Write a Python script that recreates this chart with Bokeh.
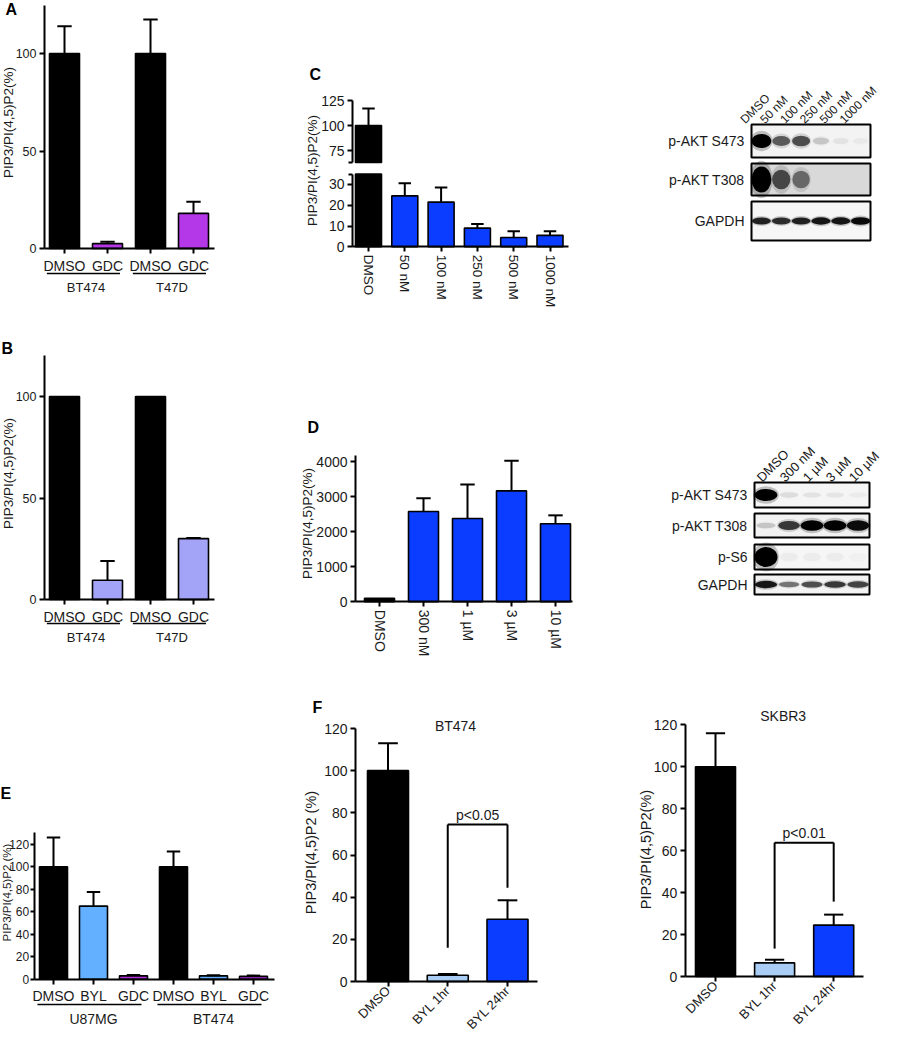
import numpy as np
from bokeh.plotting import figure
from bokeh.models import Range1d, LinearAxis, FixedTicker
from bokeh.layouts import row, column
from bokeh.embed import file_html
from bokeh.resources import INLINE
from bokeh.core.properties import value

FONT = "Liberation Sans"
TXT = "#1a1a1a"

# ---------------- data ----------------
a_cells = ["BT474", "BT474", "T47D", "T47D"]
a_treat = ["DMSO", "GDC", "DMSO", "GDC"]
a_mean = [100, 2.5, 100, 18]
a_upper = [114, 3.5, 117.5, 24]

b_cells = ["BT474", "BT474", "T47D", "T47D"]
b_treat = ["DMSO", "GDC", "DMSO", "GDC"]
b_mean = [100, 9.5, 100, 30]
b_upper = [100, 19, 100, 30.3]

c_dose = ["DMSO", "50 nM", "100 nM", "250 nM", "500 nM", "1000 nM"]
c_mean = [100, 24.5, 21.5, 9, 4.5, 5.5]
c_upper = [117, 30.5, 28.5, 11, 7.5, 7.5]
c_break = [35, 63]  # axis break: lower segment top, upper segment bottom

d_dose = ["DMSO", "300 nM", "1 µM", "3 µM", "10 µM"]
d_mean = [100, 2580, 2380, 3170, 2230]
d_upper = [100, 2960, 3350, 4030, 2470]

e_cells = ["U87MG", "U87MG", "U87MG", "BT474", "BT474", "BT474"]
e_treat = ["DMSO", "BYL", "GDC", "DMSO", "BYL", "GDC"]
e_mean = [100, 65, 3, 100, 3, 2.5]
e_upper = [126, 77.5, 3.8, 113.5, 3.6, 3.2]

f_treat = ["DMSO", "BYL 1hr", "BYL 24hr"]
f1_mean = [100, 3, 29.5]
f1_upper = [113, 3.5, 38.5]
f1_p = "p<0.05"
f1_bracket = [74.5, 16, 44.5]   # bar top, left leg end, right leg end
f2_mean = [100, 6.5, 24.5]
f2_upper = [116, 8, 29.5]
f2_p = "p<0.01"
f2_bracket = [63.8, 13.3, 35.7]

cb_lanes = ["DMSO", "50 nM", "100 nM", "250 nM", "500 nM", "1000 nM"]
cb_rows = ["p-AKT S473", "p-AKT T308", "GAPDH"]
cb_int = [[1.0, 0.55, 0.6, 0.15, 0.05, 0.03],
          [1.0, 0.6, 0.45, 0.0, 0.0, 0.0],
          [0.8, 0.75, 0.8, 0.85, 0.85, 0.9]]
db_lanes = ["DMSO", "300 nM", "1 µM", "3 µM", "10 µM"]
db_rows = ["p-AKT S473", "p-AKT T308", "p-S6", "GAPDH"]
db_int = [[1.0, 0.08, 0.06, 0.05, 0.03],
          [0.15, 0.7, 0.95, 0.95, 0.9],
          [1.0, 0.03, 0.03, 0.03, 0.02],
          [0.85, 0.45, 0.6, 0.7, 0.65]]

YLAB = "PIP3/PI(4,5)P2(%)"
YLAB_SP = "PIP3/PI(4,5)P2 (%)"

BLACK = "#000000"
PURPLE = "#b438e8"
LAVENDER = "#a3a3f7"
BLUE = "#0a3dff"
LBLUE = "#62b0ff"
PALEBLUE = "#a9cdf4"
PURPLE2 = "#b02fd9"


# ---------------- helpers ----------------
def base_fig(cell, xmap, ymap):
    x0, y0, x1, y1 = cell
    c0, sp = xmap
    z, ppu = ymap
    X = lambda px: (px - c0) / sp
    Y = lambda py: (z - py) / ppu
    p = figure(width=x1 - x0, height=y1 - y0,
               x_range=Range1d(X(x0), X(x1)), y_range=Range1d(Y(y1), Y(y0)),
               output_backend="svg", toolbar_location=None,
               x_axis_location=None, y_axis_location=None, min_border=0,
               outline_line_color=None, background_fill_color="white",
               border_fill_color="white")
    p.grid.visible = False
    return p, X, Y


def style(ax, fs, standoff=3, tick_out=5):
    ax.axis_line_width = 2
    ax.axis_line_color = "black"
    ax.major_tick_line_width = 2
    ax.major_tick_line_color = "black"
    ax.major_tick_out = tick_out
    ax.major_tick_in = 0
    ax.minor_tick_line_width = 2
    ax.minor_tick_line_color = "black"
    ax.minor_tick_out = 4
    ax.minor_tick_in = 0
    ax.major_label_text_font = FONT
    ax.major_label_text_font_size = f"{fs}px"
    ax.major_label_text_color = TXT
    ax.major_label_standoff = standoff


def yaxis(p, at, bounds, ticks, fs, minor=None, range_name="default", standoff=3, tick_out=5):
    ax = LinearAxis(fixed_location=at, bounds=bounds,
                    ticker=FixedTicker(ticks=ticks, minor_ticks=minor or []),
                    y_range_name=range_name)
    style(ax, fs, standoff, tick_out)
    p.add_layout(ax, "left")


def xaxis(p, at, bounds, labels, fs, orient="horizontal", standoff=4):
    ax = LinearAxis(fixed_location=at, bounds=bounds,
                    ticker=FixedTicker(ticks=list(range(len(labels)))),
                    major_label_overrides={i: s for i, s in enumerate(labels)},
                    major_label_orientation=orient)
    style(ax, fs, standoff)
    p.add_layout(ax, "below")


def txt(p, xs, ys, texts, fs, align="center", baseline="middle", angle=0.0,
        bold=False, color=TXT):
    p.text(x=list(xs), y=list(ys), text=list(texts), text_font=value(FONT),
           text_font_size=value(f"{fs}px"), text_align=align,
           text_baseline=baseline, angle=angle,
           text_font_style="bold" if bold else "normal", text_color=color)


def bars(p, xs, tops, uppers, colors, w, bottom=0, range_name="default"):
    xs = np.asarray(xs, dtype=float)
    tops = np.asarray(tops, dtype=float)
    uppers = np.asarray(uppers, dtype=float)
    p.vbar(x=xs, top=tops, bottom=bottom, width=w, fill_color=colors,
           line_color="black", line_width=1.6, y_range_name=range_name)
    m = uppers > tops
    if m.any():
        cw = w * 0.24
        p.segment(x0=xs[m], y0=tops[m], x1=xs[m], y1=uppers[m],
                  line_color="black", line_width=2, y_range_name=range_name)
        p.segment(x0=xs[m] - cw, y0=uppers[m], x1=xs[m] + cw, y1=uppers[m],
                  line_color="black", line_width=2, y_range_name=range_name)


def groups(p, cells, y_line, y_text, fs, left=0.41, right=0.29):
    order = []
    for c in cells:
        if c not in order:
            order.append(c)
    x0s, x1s, mids = [], [], []
    for g in order:
        idx = [i for i, c in enumerate(cells) if c == g]
        x0s.append(min(idx) - left)
        x1s.append(max(idx) + right)
        mids.append((min(idx) + max(idx)) / 2)
    p.segment(x0=x0s, y0=[y_line] * len(order), x1=x1s, y1=[y_line] * len(order),
              line_color="black", line_width=1.5)
    txt(p, mids, [y_text] * len(order), order, fs)


def bracket(p, br, label, ppu, fs=14):
    top, l_end, r_end = br
    p.segment(x0=[1, 1, 2], y0=[top, l_end, r_end], x1=[2, 1, 2], y1=[top, top, top],
              line_color="black", line_width=2)
    txt(p, [1.5], [top + 1.5 / ppu], [label], fs, baseline="bottom")


def blot(cell, box_l, box_r, rows_px, lanes, rownames, ints, bgs, band_h,
         lab_dx, lab_y, lab_fs=13):
    x0, y0, x1, y1 = cell
    nl = len(lanes)
    lw = (box_r - box_l) / nl
    X = lambda px: (px - box_l) / lw - 0.5
    Y = lambda py: -py
    p = figure(width=x1 - x0, height=y1 - y0,
               x_range=Range1d(X(x0), X(x1)), y_range=Range1d(Y(y1), Y(y0)),
               output_backend="svg", toolbar_location=None,
               x_axis_location=None, y_axis_location=None, min_border=0,
               outline_line_color=None, background_fill_color="white",
               border_fill_color="white")
    p.grid.visible = False
    idx = np.arange(nl, dtype=float)
    for r, (t, b) in enumerate(rows_px):
        yc = Y((t + b) / 2)
        h = b - t
        p.rect(x=(nl - 1) / 2, y=yc, width=nl, height=h, fill_color=bgs[r],
               line_color=None)
        I = np.asarray(ints[r], dtype=float)
        m = I > 0.005
        hh = band_h[r] * (0.4 + 0.6 * I[m])
        ww = 0.78 + 0.22 * I[m]
        p.ellipse(x=idx[m], y=yc, width=ww * 1.12, height=hh * 1.45,
                  fill_color="black", fill_alpha=0.22 * I[m], line_color=None)
        p.ellipse(x=idx[m], y=yc, width=ww, height=hh, fill_color="black",
                  fill_alpha=np.clip(I[m] * 1.05, 0, 1), line_color=None)
        p.rect(x=(nl - 1) / 2, y=yc, width=nl, height=h, fill_color=None,
               line_color="black", line_width=2)
        txt(p, [X(box_l - 7)], [yc], [rownames[r]], 14, align="right")
    txt(p, idx - lab_dx / lw, [Y(lab_y)] * nl, lanes, lab_fs, align="left",
        baseline="alphabetic", angle=np.pi / 4)
    return p


# ---------------- panel A ----------------
pA, X, Y = base_fig((8, 8, 300, 340), (72, 43), (256, 1.95))
bars(pA, np.arange(len(a_mean)), a_mean, a_upper, [BLACK, PURPLE, BLACK, PURPLE], 30 / 43)
yaxis(pA, X(52), (0, Y(13)), [0, 50, 100], 12.5)
xaxis(pA, 0, (X(52), X(222)), a_treat, 14)
groups(pA, a_cells, Y(281), Y(295), 13)
txt(pA, [X(16)], [Y(130)], [YLAB], 13.5, angle=np.pi / 2)
txt(pA, [X(13)], [Y(8)], ["A"], 16, align="left", baseline="top", bold=True, color="black")

# ---------------- panel B ----------------
pB, X, Y = base_fig((8, 340, 300, 670), (72, 43), (607, 2.03))
bars(pB, np.arange(len(b_mean)), b_mean, b_upper, [BLACK, LAVENDER, BLACK, LAVENDER], 30 / 43)
yaxis(pB, X(52), (0, Y(363)), [0, 50, 100], 12.5)
xaxis(pB, 0, (X(52), X(222)), b_treat, 14)
groups(pB, b_cells, Y(631), Y(645), 13)
txt(pB, [X(16)], [Y(481)], [YLAB], 13.5, angle=np.pi / 2)
txt(pB, [X(9)], [Y(347)], ["B"], 16, align="left", baseline="top", bold=True, color="black")

# ---------------- panel C (broken axis) ----------------
pC, X, Y = base_fig((300, 8, 640, 340), (376, 36.3), (233, 1.0))
zl, ppl = 254.3, 2.08
YL = lambda py: (zl - py) / ppl
pC.extra_y_ranges = {"lower": Range1d(YL(340), YL(8))}
cx = np.arange(len(c_mean), dtype=float)
cm = np.asarray(c_mean, dtype=float)
cu = np.asarray(c_upper, dtype=float)
ccol = [BLACK] + [BLUE] * (len(c_mean) - 1)
hi = cm > c_break[0]
cwid = 26 / 36.3
pC.vbar(x=cx[hi], bottom=c_break[1], top=cm[hi], width=cwid,
        fill_color=[ccol[i] for i in np.where(hi)[0]], line_color="black", line_width=1.6)
pC.vbar(x=cx, bottom=0, top=np.minimum(cm, c_break[0]), width=cwid,
        fill_color=ccol, line_color="black", line_width=1.6, y_range_name="lower")
cw = cwid * 0.24
eh = cu > c_break[0]
pC.segment(x0=cx[eh], y0=cm[eh], x1=cx[eh], y1=cu[eh], line_color="black", line_width=2)
pC.segment(x0=cx[eh] - cw, y0=cu[eh], x1=cx[eh] + cw, y1=cu[eh], line_color="black", line_width=2)
el = ~eh
pC.segment(x0=cx[el], y0=cm[el], x1=cx[el], y1=cu[el], line_color="black", line_width=2,
           y_range_name="lower")
pC.segment(x0=cx[el] - cw, y0=cu[el], x1=cx[el] + cw, y1=cu[el], line_color="black",
           line_width=2, y_range_name="lower")
yaxis(pC, X(360), (c_break[1], 125), [75, 100, 125], 14, minor=[c_break[1]])
yaxis(pC, X(360), (0, c_break[0]), [0, 10, 20, 30], 14, minor=[c_break[0]], range_name="lower")
xaxis(pC, Y(254.3), (X(360), X(576)), c_dose, 13.5, orient="vertical", standoff=3)
txt(pC, [X(320)], [Y(178)], [YLAB], 13.5, angle=np.pi / 2)
txt(pC, [X(317)], [Y(73)], ["C"], 16, align="left", baseline="top", bold=True, color="black")

# ---------------- panel C blot ----------------
pCb = blot((640, 8, 891, 340), 759, 878, [(132, 165), (171, 203), (209, 248)],
           cb_lanes, cb_rows, cb_int, ["#f3f3f3", "#d9d9d9", "#f6f6f6"], [14, 26, 8],
           19, 129, lab_fs=12)

# ---------------- panel D ----------------
pD, X, Y = base_fig((300, 340, 640, 670), (387, 44), (609.3, 0.035))
bars(pD, np.arange(len(d_mean)), d_mean, d_upper, [BLACK] + [BLUE] * 4, 30 / 44)
yaxis(pD, X(363), (0, Y(463)), [0, 1000, 2000, 3000, 4000], 14)
xaxis(pD, 0, (X(363), X(580)), d_dose, 14, orient="vertical", standoff=3)
txt(pD, [X(315)], [Y(531)], [YLAB], 13.5, angle=np.pi / 2)
txt(pD, [X(315)], [Y(426)], ["D"], 16, align="left", baseline="top", bold=True, color="black")

# ---------------- panel D blot ----------------
pDb = blot((640, 340, 891, 670), 762, 877, [(490, 515), (521, 545), (552, 577), (582, 602)],
           db_lanes, db_rows, db_int, ["#f5f5f5", "#f2f2f2", "#f6f6f6", "#f3f3f3"],
           [12, 11, 20, 8], 7, 487)

# ---------------- panel E ----------------
pE, X, Y = base_fig((8, 670, 300, 1041), (61, 40), (986.7, 1.125))
bars(pE, np.arange(len(e_mean)), e_mean, e_upper,
     [BLACK, LBLUE, PURPLE2, BLACK, LBLUE, PURPLE2], 28 / 40)
yaxis(pE, X(41.7), (0, Y(840)), [0, 20, 40, 60, 80, 100, 120], 12, standoff=1, tick_out=4)
xaxis(pE, 0, (X(41.7), X(282)), e_treat, 14)
groups(pE, e_cells, Y(1012), Y(1026), 14, left=0.4, right=0.2)
txt(pE, [X(14)], [Y(900)], [YLAB_SP], 11.5, angle=np.pi / 2)
txt(pE, [X(8)], [Y(792)], ["E"], 16, align="left", baseline="top", bold=True, color="black")

# ---------------- panel F (BT474) ----------------
pF1, X, Y = base_fig((300, 670, 630, 1041), (395.5, 59.75), (989, 2.1083))
bars(pF1, np.arange(3), f1_mean, f1_upper, [BLACK, PALEBLUE, BLUE], 41 / 59.75)
yaxis(pF1, X(363), (0, 120), [0, 20, 40, 60, 80, 100, 120], 14)
xaxis(pF1, 0, (X(363), X(545)), f_treat, 13, orient=np.pi / 4, standoff=2)
bracket(pF1, f1_bracket, f1_p, 2.1083)
txt(pF1, [X(463)], [Y(733)], ["BT474"], 14)
txt(pF1, [X(318)], [Y(860)], [YLAB_SP], 14.5, angle=np.pi / 2)
txt(pF1, [X(320)], [Y(706)], ["F"], 16, align="left", baseline="top", bold=True, color="black")

# ---------------- panel F (SKBR3) ----------------
pF2, X, Y = base_fig((630, 670, 891, 1041), (723, 59.1), (984, 2.0975))
bars(pF2, np.arange(3), f2_mean, f2_upper, [BLACK, PALEBLUE, BLUE], 40 / 59.1)
yaxis(pF2, X(692.7), (0, 120), [0, 20, 40, 60, 80, 100, 120], 14)
xaxis(pF2, 0, (X(692.7), X(870.7)), f_treat, 13, orient=np.pi / 4, standoff=2)
bracket(pF2, f2_bracket, f2_p, 2.0975)
txt(pF2, [X(790.7)], [Y(723)], ["SKBR3"], 14)
txt(pF2, [X(653)], [Y(857)], [YLAB], 14.5, angle=np.pi / 2)

layout = column(row(pA, pC, pCb, spacing=0),
                row(pB, pD, pDb, spacing=0),
                row(pE, pF1, pF2, spacing=0), spacing=0)

open("out.html", "w").write(file_html(layout, INLINE))
